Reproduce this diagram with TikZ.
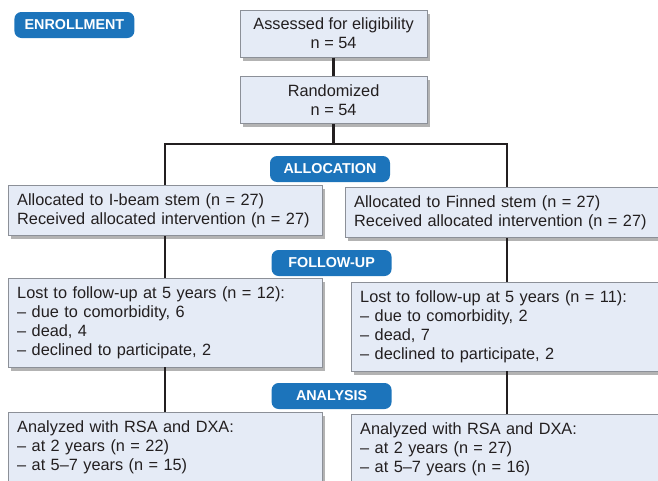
\documentclass[tikz,border=0pt]{standalone}
\usepackage{fontspec}
\setmainfont{Liberation Sans}
\usetikzlibrary{
  shadows,
  positioning,
  calc}
\definecolor{boxfill}{HTML}{E5EBF6}
\definecolor{boxline}{HTML}{8C9098}
\definecolor{badgeblue}{HTML}{1C74BB}
\definecolor{ink}{HTML}{231F20}

\begin{document}
\begin{tikzpicture}[
      block/.style={
        rectangle,
        draw=boxline,
        line width=0.6pt,
        fill=boxfill,
        text=ink,
        drop shadow={shadow xshift=2pt, shadow yshift=-2.5pt, fill=black!50, opacity=0.6},
        font=\fontsize{11.6}{13.6}\selectfont,
      },
      top-box/.style={
        minimum width=4.675cm,
        minimum height=1.175cm,
        align=center,
      },
      arm-box/.style={
        anchor=north west,
        align=left,
        inner xsep=0.22cm,
        inner ysep=0.2cm,
      },
      badge/.style={
        rectangle,
        rounded corners=5pt,
        fill=badgeblue,
        text=white,
        font=\fontsize{10.2}{12}\selectfont\bfseries,
        minimum width=3cm,
        minimum height=0.65cm,
        inner sep=0pt,
      },
      link/.style={
        line width=2.1pt,
        draw=ink,
      },
    ]
    \useasboundingbox (0,0) rectangle (16.45,-12);
    \clip (0,0) rectangle (16.45,-12);
    \coordinate (assess) at (8.34,-0.84);
    \coordinate (random) at (8.34,-2.51);
    \coordinate (split) at (8.34,-3.6);
    \coordinate (arm-left) at (4.125,-3.6);
    \coordinate (arm-right) at (12.675,-3.6);
    \coordinate (alloc-i) at (0.2,-4.625);
    \coordinate (alloc-f) at (8.625,-4.675);
    \coordinate (lost-i) at (0.2,-6.95);
    \coordinate (lost-f) at (8.775,-7.05);
    \coordinate (anal-i) at (0.2,-10.3);
    \coordinate (anal-f) at (8.775,-10.35);
    \node[block, top-box] (assess-node) at (assess) {Assessed for eligibility\\n = 54};
    \node[block, top-box] (random-node) at (random) {Randomized\\n = 54};
    \node[block, arm-box, text width=7.4cm, minimum height=1.2cm] (alloc-i-node) at (alloc-i)
      {Allocated to I-beam stem (n = 27)\\Received allocated intervention (n = 27)};
    \node[block, arm-box, text width=7.6cm, minimum height=1.175cm] (alloc-f-node) at (alloc-f)
      {Allocated to Finned stem (n = 27)\\Received allocated intervention (n = 27)};
    \node[block, arm-box, text width=7.4cm, minimum height=2.175cm] (lost-i-node) at (lost-i)
      {Lost to follow-up at 5 years (n = 12):\\– due to comorbidity, 6\\– dead, 4\\– declined to participate, 2};
    \node[block, arm-box, text width=7.6cm, minimum height=2.125cm] (lost-f-node) at (lost-f)
      {Lost to follow-up at 5 years (n = 11):\\– due to comorbidity, 2\\– dead, 7\\– declined to participate, 2};
    \node[block, arm-box, text width=7.4cm] (anal-i-node) at (anal-i)
      {Analyzed with RSA and DXA:\\– at 2 years (n = 22)\\– at 5–7 years (n = 15)};
    \node[block, arm-box, text width=7.6cm] (anal-f-node) at (anal-f)
      {Analyzed with RSA and DXA:\\– at 2 years (n = 27)\\– at 5–7 years (n = 16)};
    \node[badge] (enroll-badge) at (1.86,-0.625) {ENROLLMENT};
    \node[badge] (alloc-badge) at (8.25,-4.225) {ALLOCATION};
    \node[badge] (follow-badge) at (8.29,-6.575) {FOLLOW-UP};
    \node[badge] (analysis-badge) at (8.29,-9.9) {ANALYSIS};
    \draw[link] (assess-node.south) -- (random-node.north);
    \draw[link] (random-node.south) -- (split);
    \draw[link] (alloc-i-node.north -| arm-left) |- (arm-right) -- (arm-right |- alloc-f-node.north);
    \draw[link] (alloc-i-node.south -| arm-left) -- (lost-i-node.north -| arm-left);
    \draw[link] (lost-i-node.south -| arm-left) -- (anal-i-node.north -| arm-left);
    \draw[link] (alloc-f-node.south -| arm-right) -- (lost-f-node.north -| arm-right);
    \draw[link] (lost-f-node.south -| arm-right) -- (anal-f-node.north -| arm-right);
  \end{tikzpicture}
\end{document}
